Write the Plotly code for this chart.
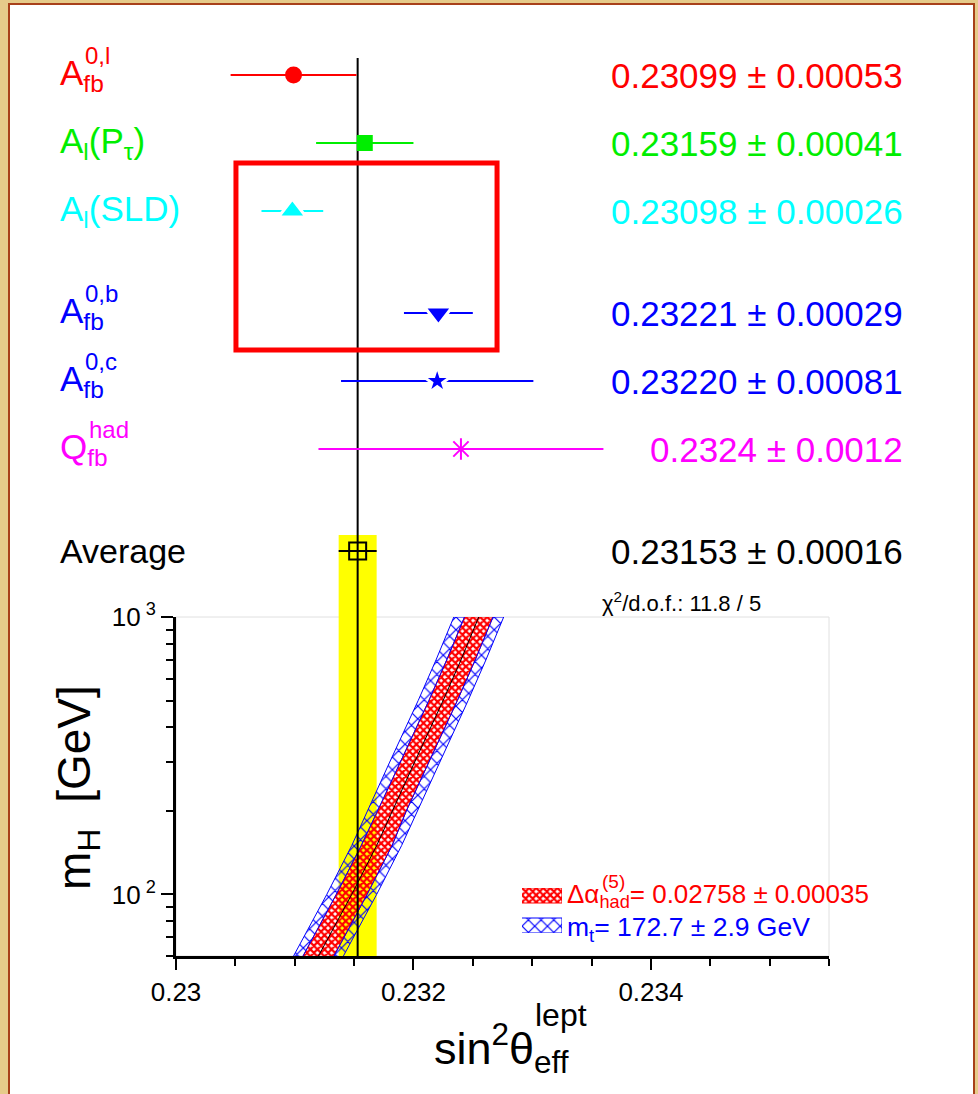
import plotly.graph_objects as go

# ---------------- data ----------------
meas_labels = ["A<sub>fb</sub>", "A<sub>l</sub>(P<sub>τ</sub>)", "A<sub>l</sub>(SLD)",
               "A<sub>fb</sub>", "A<sub>fb</sub>", "Q<sub>fb</sub>"]
meas_sups = ["0,l", "", "", "0,b", "0,c", "had"]
meas_values = [0.23099, 0.23159, 0.23098, 0.23221, 0.23220, 0.2324]
meas_errors = [0.00053, 0.00041, 0.00026, 0.00029, 0.00081, 0.0012]
meas_texts = ["0.23099 ± 0.00053", "0.23159 ± 0.00041", "0.23098 ± 0.00026",
              "0.23221 ± 0.00029", "0.23220 ± 0.00081", "0.2324 ± 0.0012"]
avg_label = "Average"
avg_value = 0.23153
avg_error = 0.00016
avg_text = "0.23153 ± 0.00016"
chi2_text = "χ<sup>2</sup>/d.o.f.: 11.8 / 5"

# SM prediction band vs Higgs mass
mh_grid = [60, 80, 100, 150, 200, 300, 500, 700, 1000]
sw_center = [0.23120, 0.23136, 0.23148, 0.23169, 0.23182, 0.23201, 0.23225, 0.23240, 0.23255]
alpha_half = [0.00013, 0.00013, 0.00013, 0.00013, 0.00012, 0.00012, 0.00012, 0.00012, 0.00012]
mt_half = [0.00021, 0.00021, 0.00021, 0.00021, 0.00021, 0.00021, 0.00021, 0.00021, 0.00021]
alpha_name = "Δα<sub>had</sub>= 0.02758 ± 0.00035"
alpha_sup = "(5)"
mt_name = "m<sub>t</sub>= 172.7 ± 2.9 GeV"

x_ticks = [0.23, 0.232, 0.234]
x_ticktext = ["0.23", "0.232", "0.234"]
y_ticks = [100, 1000]
y_ticktext = ["10<sup> 2</sup>", "10<sup> 3</sup>"]
y_minor = [60, 70, 80, 90, 200, 300, 400, 500, 600, 700, 800, 900]

# ---------------- styles / layout ----------------
meas_colors = ["#ff0000", "#00ee00", "#00ffff", "#0000ff", "#0000ff", "#ff00ff"]
meas_symbols = ["circle", "square", "triangle-up", "triangle-down", "star", "asterisk-open"]
meas_sizes = [17, 16, 24, 24, 21, 18]
row_pos = [0, 1, 2, 3.5, 4.5, 5.5]
avg_row = 7
FONT = "Liberation Sans, Arial, sans-serif"
RED_PAT = dict(shape="x", fgcolor="#ff0000", bgcolor="rgba(0,0,0,0)", size=5, solidity=0.7,
               fgopacity=1)
BLUE_PAT = dict(shape="x", fgcolor="#0000ff", bgcolor="rgba(0,0,0,0)", size=9, solidity=0.25,
                fgopacity=1)

W, H = 978, 1094
ML, MR, MT, MB = 176, 149, 10, 138
PW = W - ML - MR
PH = H - MT - MB
ROW0_PX, ROW_STEP = 75, 68


def px_x(p):
    return (p - ML) / PW


def px_y(p):
    return (H - MB - p) / PH


def px_row(p):
    return (p - ROW0_PX) / ROW_STEP


fig = go.Figure()

# --- bands (lower panel) ---
lo_a = [c - a for c, a in zip(sw_center, alpha_half)]
hi_a = [c + a for c, a in zip(sw_center, alpha_half)]
lo_t = [c - t for c, t in zip(sw_center, mt_half)]
hi_t = [c + t for c, t in zip(sw_center, mt_half)]

fig.add_trace(go.Scatter(
    x=lo_a + hi_a[::-1], y=mh_grid + mh_grid[::-1], fill="toself", mode="lines",
    line=dict(color="#ff0000", width=1), fillcolor="rgba(0,0,0,0)",
    fillpattern=RED_PAT, showlegend=False, hoverinfo="skip"))
fig.add_trace(go.Scatter(
    x=lo_t + lo_a[::-1], y=mh_grid + mh_grid[::-1], fill="toself", mode="lines",
    line=dict(color="#0000ff", width=1), fillcolor="rgba(0,0,0,0)",
    fillpattern=BLUE_PAT, showlegend=False, hoverinfo="skip"))
fig.add_trace(go.Scatter(
    x=hi_a + hi_t[::-1], y=mh_grid + mh_grid[::-1], fill="toself", mode="lines",
    line=dict(color="#0000ff", width=1), fillcolor="rgba(0,0,0,0)",
    fillpattern=BLUE_PAT, showlegend=False, hoverinfo="skip"))
fig.add_trace(go.Scatter(
    x=sw_center, y=mh_grid, mode="lines", line=dict(color="black", width=1),
    showlegend=False, hoverinfo="skip"))

# --- legend swatches (on their own small hidden axes) ---
fig.add_trace(go.Scatter(
    x=[0, 1, 1, 0], y=[2, 2, 3, 3], xaxis="x3", yaxis="y3", fill="toself", mode="lines",
    line=dict(color="#ff0000", width=1), fillcolor="rgba(0,0,0,0)", fillpattern=RED_PAT,
    showlegend=False, hoverinfo="skip"))
fig.add_trace(go.Scatter(
    x=[0, 1, 1, 0], y=[0, 0, 1, 1], xaxis="x3", yaxis="y3", fill="toself", mode="lines",
    line=dict(color="#0000ff", width=1), fillcolor="rgba(0,0,0,0)", fillpattern=BLUE_PAT,
    showlegend=False, hoverinfo="skip"))

# --- measurements (upper panel) ---
for i in range(len(meas_values)):
    sym = meas_symbols[i]
    if sym == "asterisk-open":
        mline = dict(color=meas_colors[i], width=2)
    elif sym in ("triangle-up", "triangle-down", "star"):
        mline = dict(color="white", width=3)
    else:
        mline = dict(width=0)
    fig.add_trace(go.Scatter(
        x=[meas_values[i]], y=[row_pos[i]], xaxis="x", yaxis="y2", mode="markers",
        marker=dict(symbol=sym, size=meas_sizes[i], color=meas_colors[i], line=mline),
        error_x=dict(type="data", array=[meas_errors[i]], color=meas_colors[i],
                     thickness=2, width=0),
        showlegend=False, hoverinfo="skip"))

fig.add_trace(go.Scatter(
    x=[avg_value], y=[avg_row], xaxis="x", yaxis="y2", mode="markers",
    marker=dict(symbol="square-open", size=17, color="black", line=dict(color="black", width=2)),
    error_x=dict(type="data", array=[avg_error], color="black", thickness=2, width=0),
    showlegend=False, hoverinfo="skip"))

# --- shapes ---
shapes = [
    dict(type="rect", xref="paper", yref="paper", x0=px_x(9), x1=px_x(974),
         y0=px_y(1110), y1=px_y(4), fillcolor="white",
         line=dict(color="#a8401a", width=2), layer="below"),
    dict(type="rect", xref="x domain", yref="y domain", x0=0, x1=1, y0=0, y1=1,
         line=dict(color="#e0e0e0", width=1), layer="below"),
    dict(type="rect", xref="x", yref="paper", x0=avg_value - avg_error, x1=avg_value + avg_error,
         y0=0, y1=px_y(535), fillcolor="#ffff00", line=dict(width=0), layer="below"),
    dict(type="line", xref="x", yref="paper", x0=avg_value, x1=avg_value,
         y0=px_y(600), y1=px_y(58), line=dict(color="black", width=2), layer="below"),
    dict(type="line", xref="x", yref="paper", x0=avg_value, x1=avg_value,
         y0=0, y1=px_y(600), line=dict(color="black", width=2), layer="above"),
    dict(type="rect", xref="x", yref="y2", x0=0.230505, x1=0.232704,
         y0=px_row(163), y1=px_row(350), line=dict(color="#ff0000", width=5),
         fillcolor="rgba(0,0,0,0)", layer="above"),
]

# --- annotations ---
ann = []
for i in range(len(meas_values)):
    ann.append(dict(x=px_x(58), y=row_pos[i], xref="paper", yref="y2", text=meas_labels[i],
                    xanchor="left", yanchor="middle", showarrow=False,
                    font=dict(family=FONT, size=35, color=meas_colors[i])))
    if meas_sups[i]:
        sx = 87 if meas_sups[i] == "had" else 83
        ann.append(dict(x=px_x(sx), y=row_pos[i] - 0.29, xref="paper", yref="y2",
                        text=meas_sups[i], xanchor="left", yanchor="middle", showarrow=False,
                        font=dict(family=FONT, size=24, color=meas_colors[i])))
    ann.append(dict(x=px_x(905), y=row_pos[i], xref="paper", yref="y2", text=meas_texts[i],
                    xanchor="right", yanchor="middle", showarrow=False,
                    font=dict(family=FONT, size=35, color=meas_colors[i])))
ann.append(dict(x=px_x(58), y=avg_row, xref="paper", yref="y2", text=avg_label,
                xanchor="left", yanchor="middle", showarrow=False,
                font=dict(family=FONT, size=34, color="black")))
ann.append(dict(x=px_x(905), y=avg_row, xref="paper", yref="y2", text=avg_text,
                xanchor="right", yanchor="middle", showarrow=False,
                font=dict(family=FONT, size=35, color="black")))
ann.append(dict(x=px_x(763), y=px_y(602), xref="paper", yref="paper", text=chi2_text,
                xanchor="right", yanchor="middle", showarrow=False,
                font=dict(family=FONT, size=22, color="black")))
ann.append(dict(x=px_x(77), y=px_y(788), xref="paper", yref="paper",
                text="m<sub>H</sub>\u00a0\u00a0[GeV]", textangle=-90,
                xanchor="center", yanchor="middle", showarrow=False,
                font=dict(family=FONT, size=46, color="black")))
ann.append(dict(x=px_x(432), y=px_y(1048), xref="paper", yref="paper",
                text="sin<sup>2</sup>θ<sub>eff</sub>", xanchor="left", yanchor="middle",
                showarrow=False, font=dict(family=FONT, size=45, color="black")))
ann.append(dict(x=px_x(533), y=px_y(1015), xref="paper", yref="paper",
                text="lept", xanchor="left", yanchor="middle",
                showarrow=False, font=dict(family=FONT, size=32, color="black")))
# legend texts
ann.append(dict(x=px_x(565), y=px_y(895), xref="paper", yref="paper",
                text=alpha_name, xanchor="left", yanchor="middle",
                showarrow=False, font=dict(family=FONT, size=26, color="#ff0000")))
ann.append(dict(x=px_x(600), y=px_y(881), xref="paper", yref="paper",
                text=alpha_sup, xanchor="left", yanchor="middle",
                showarrow=False, font=dict(family=FONT, size=19, color="#ff0000")))
ann.append(dict(x=px_x(565), y=px_y(929), xref="paper", yref="paper",
                text=mt_name, xanchor="left", yanchor="middle",
                showarrow=False, font=dict(family=FONT, size=26.5, color="#0000ff")))

fig.update_layout(
    width=W, height=H,
    margin=dict(l=ML, r=MR, t=MT, b=MB, pad=0, autoexpand=False),
    paper_bgcolor="#e6cb8a", plot_bgcolor="rgba(0,0,0,0)",
    font=dict(family=FONT, color="black"),
    showlegend=False,
    xaxis=dict(range=[0.23, 0.2355], domain=[0, 1], anchor="y", automargin=False,
               tickvals=x_ticks, ticktext=x_ticktext, ticks="outside", ticklen=11, tickwidth=2,
               tickcolor="black", showline=True, linecolor="black", linewidth=3,
               showgrid=False, zeroline=False,
               tickfont=dict(family=FONT, size=26, color="black"),
               minor=dict(tick0=0.23, dtick=0.0005, ticks="outside", ticklen=7, tickwidth=2,
                          tickcolor="black", showgrid=False)),
    yaxis=dict(type="log", range=[1.77815, 3], domain=[0, px_y(617)], anchor="x",
               automargin=False,
               tickmode="array", tickvals=y_ticks, ticktext=y_ticktext,
               ticks="outside", ticklen=12, tickwidth=2, tickcolor="black",
               showline=True, linecolor="black", linewidth=3, showgrid=False, zeroline=False,
               tickfont=dict(family=FONT, size=26, color="black"),
               minor=dict(tickmode="array", tickvals=y_minor, ticks="outside", ticklen=7,
                          tickwidth=2, tickcolor="black", showgrid=False)),
    yaxis2=dict(domain=[px_y(600), 1], anchor="x", range=[px_row(600), px_row(10)],
                visible=False, showgrid=False, zeroline=False, automargin=False),
    xaxis3=dict(domain=[px_x(522), px_x(562)], range=[0, 1], anchor="y3",
                visible=False, automargin=False),
    yaxis3=dict(domain=[px_y(933), px_y(888)], range=[0, 3], anchor="x3",
                visible=False, automargin=False),
    shapes=shapes,
    annotations=ann,
)

fig.write_html("out.html")
